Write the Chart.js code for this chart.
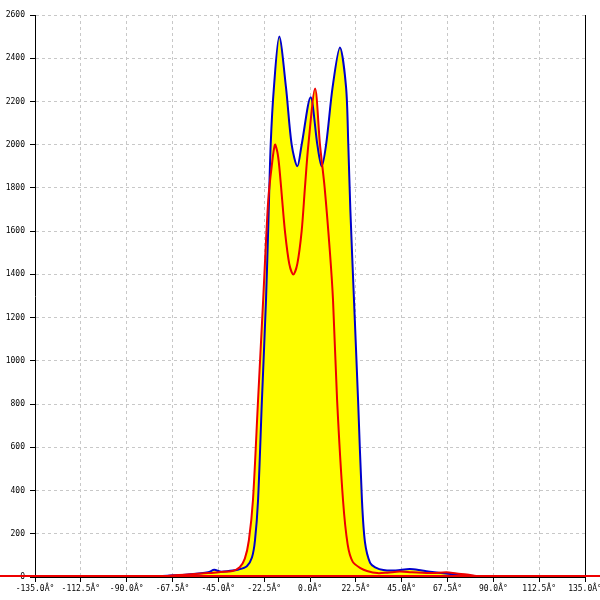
<!DOCTYPE html>
<html>
<head>
<meta charset="utf-8">
<script src="https://cdn.jsdelivr.net/npm/chart.js@4/dist/chart.umd.min.js"></script>
<style>
  html, body { margin: 0; padding: 0; background: #ffffff; }
  #wrap { width: 600px; height: 600px; }
</style>
</head>
<body>
<div id="wrap"><canvas id="angleChart" width="600" height="600"></canvas></div>
<script>
// angle distribution
const xTickValues = [-135, -112.5, -90, -67.5, -45, -22.5, 0, 22.5, 45, 67.5, 90, 112.5, 135];
const yTickValues = [0, 200, 400, 600, 800, 1000, 1200, 1400, 1600, 1800, 2000, 2200, 2400, 2600];

const blueAngles = [-80, -70, -60, -50, -47, -44, -40, -35, -31, -28.5,
  -27, -25.5, -23.6, -21.6, -20.4, -19.3, -17.7, -15.1, -11.8,
  -9, -6.2, -4.1, 0.3, 3.6, 5.7, 7.9, 11.1, 14.7, 17.7,
  18.8, 19.8, 21.6, 23.6, 25.5, 27, 29.5, 32, 36,
  42, 49, 55, 60, 69, 77, 85];
const blueCounts = [0, 6, 12, 22, 33, 25, 28, 35, 50, 90,
  170, 356, 819, 1281, 1650, 2000, 2266, 2500, 2266,
  2000, 1900, 2000, 2220, 2000, 1900, 2000, 2266, 2450, 2266,
  2000, 1700, 1281, 819, 356, 160, 65, 45, 32,
  30, 37, 30, 23, 14, 8, 0];

const redAngles = [-80, -70, -60, -50, -44, -38, -34.5, -32, -30, -28,
  -25.5, -23, -20.5, -18.8, -17.2, -16, -15.1, -13.8, -12.3, -10.2, -8.2,
  -6.2, -4.1, -2.5, -0.8, 2.5, 4.9, 7.2, 9.8, 11.3, 13.3,
  16.2, 18.5, 21, 25, 28, 33,
  38, 44, 50, 60, 67, 72, 77, 85];
const redCounts = [0, 5, 12, 18, 23, 28, 45, 85, 170, 356,
  819, 1281, 1744, 1900, 2000, 1965, 1900, 1760, 1600, 1450, 1400,
  1450, 1600, 1800, 2000, 2260, 2000, 1800, 1500, 1281, 819,
  356, 150, 70, 40, 28, 18,
  20, 25, 22, 18, 22, 16, 12, 0];

const RED = "#ee0000";
const BLUE = "#0000cc";
const FILL = "#ffff00";
const tickFont = { family: "'DejaVu Sans Mono', monospace", size: 8 };

function toPoints(xs, ys) {
  return xs.map((x, i) => ({ x: x, y: ys[i] }));
}

// red zero line across the whole canvas + right frame edge
const frameLines = {
  id: "frameLines",
  afterDatasetsDraw(chart) {
    const { ctx, chartArea, scales } = chart;
    const y0 = scales.y.getPixelForValue(0);
    ctx.save();
    ctx.strokeStyle = "#000000";
    ctx.lineWidth = 1;
    ctx.beginPath();
    ctx.moveTo(chartArea.right + 0.5, chartArea.top);
    ctx.lineTo(chartArea.right + 0.5, chartArea.bottom);
    ctx.stroke();
    ctx.strokeStyle = RED;
    ctx.lineWidth = 2;
    ctx.beginPath();
    ctx.moveTo(0, y0 - 1);
    ctx.lineTo(chart.width, y0 - 1);
    ctx.stroke();
    ctx.restore();
  },
};

function initAngleChart() {
  const canvas = document.getElementById("angleChart");
  return new Chart(canvas.getContext("2d"), {
    type: "line",
    data: {
      datasets: [
        {
          data: toPoints(redAngles, redCounts),
          borderColor: RED,
          borderWidth: 2,
          backgroundColor: FILL,
          fill: "origin",
          pointRadius: 0,
          tension: 0.3,
        },
        {
          data: toPoints(blueAngles, blueCounts),
          borderColor: BLUE,
          borderWidth: 2,
          backgroundColor: FILL,
          fill: "origin",
          pointRadius: 0,
          tension: 0.3,
        },
      ],
    },
    options: {
      responsive: false,
      animation: false,
      layout: { padding: { top: 15, right: 15, left: 0, bottom: 0 } },
      plugins: {
        legend: { display: false },
        tooltip: { enabled: false },
        filler: { drawTime: "beforeDatasetsDraw" },
      },
      scales: {
        x: {
          type: "linear",
          min: -135,
          max: 135,
          afterBuildTicks: (scale) => {
            scale.ticks = xTickValues.map((v) => ({ value: v }));
          },
          afterFit: (scale) => {
            scale.height = 23;
            scale.paddingLeft = 0;
            scale.paddingRight = 0;
          },
          ticks: {
            autoSkip: false,
            maxRotation: 0,
            padding: 2,
            color: "#000000",
            font: tickFont,
            callback: (v) => Number(v).toFixed(1) + "Â°",
          },
          grid: {
            color: "#c8c8c8",
            lineWidth: 1,
            tickLength: 5,
            tickColor: "#000000",
            tickBorderDash: [],
          },
          border: { display: true, color: "#000000", width: 1, dash: [3, 3] },
        },
        y: {
          type: "linear",
          min: 0,
          max: 2600,
          afterBuildTicks: (scale) => {
            scale.ticks = yTickValues.map((v) => ({ value: v }));
          },
          afterFit: (scale) => {
            scale.width = 35;
            scale.paddingTop = 0;
            scale.paddingBottom = 0;
          },
          ticks: {
            padding: 5,
            color: "#000000",
            font: tickFont,
            callback: (v) => String(v),
          },
          grid: {
            color: "#c8c8c8",
            lineWidth: 1,
            tickLength: 5,
            tickColor: "#000000",
            tickBorderDash: [],
          },
          border: { display: true, color: "#000000", width: 1, dash: [3, 3] },
        },
      },
    },
    plugins: [frameLines],
  });
}

document.addEventListener("DOMContentLoaded", initAngleChart);
</script>
</body>
</html>
